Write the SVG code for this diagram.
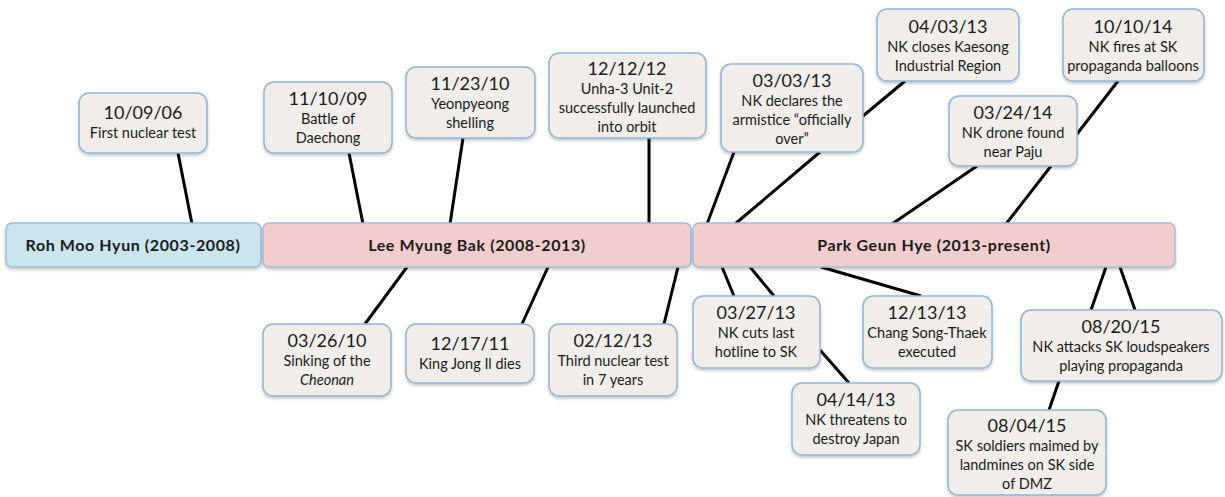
<svg xmlns="http://www.w3.org/2000/svg" width="1225" height="497" viewBox="0 0 1225 497">
<defs>
<filter id="sh" x="-10%" y="-10%" width="130%" height="140%">
<feDropShadow dx="0" dy="2" stdDeviation="1.5" flood-color="#000" flood-opacity="0.22"/>
</filter>
<style>
.ev{fill:#f1eee9;stroke:#8fb6d8;stroke-width:1.5;filter:url(#sh)}
.hdr{stroke:#9cbfdc;stroke-width:1.5;filter:url(#sh)}
.blue{fill:#c9e5ee}
.pink{fill:#f1cdcd}
text{font-family:Lato,"Open Sans","Liberation Sans",sans-serif;fill:#1a1a1a;text-anchor:middle}
.d{font-size:18px}
.t{font-size:14.5px}
.h{font-size:16px;font-weight:bold;letter-spacing:0.6px}
.c line{stroke:#000;stroke-width:3;stroke-linecap:butt}
</style>
</defs>
<rect width="1225" height="497" fill="#fff"/>
<g class="c" id="connectors">
<line x1="178" y1="153" x2="192" y2="224"/>
<line x1="349" y1="153" x2="363" y2="224"/>
<line x1="463" y1="138" x2="450" y2="224"/>
<line x1="649" y1="138" x2="649" y2="224"/>
<line x1="734" y1="152" x2="707" y2="224"/>
<line x1="820" y1="152" x2="735" y2="224"/>
<line x1="905" y1="81" x2="863" y2="116"/>
<line x1="977" y1="166" x2="892" y2="224"/>
<line x1="1051" y1="166" x2="1006" y2="224"/>
<line x1="1118" y1="81" x2="1077" y2="134"/>
<line x1="407" y1="267" x2="365" y2="324"/>
<line x1="548" y1="267" x2="522" y2="324"/>
<line x1="678" y1="267" x2="664" y2="324"/>
<line x1="722" y1="267" x2="734" y2="296"/>
<line x1="750" y1="267" x2="774" y2="296"/>
<line x1="821" y1="267" x2="921" y2="296"/>
<line x1="820" y1="350" x2="849" y2="383"/>
<line x1="1106" y1="267" x2="1091" y2="310"/>
<line x1="1120" y1="267" x2="1135" y2="310"/>
<line x1="1059" y1="381" x2="1049" y2="410"/>
</g>
<g id="roh"><rect class="hdr blue" x="6" y="223" width="255" height="44" rx="6"/><text class="h" x="133" y="251">Roh Moo Hyun (2003-2008)</text></g>
<g id="lee"><rect class="hdr pink" x="263" y="223" width="428" height="44" rx="6"/><text class="h" x="477" y="251">Lee Myung Bak (2008-2013)</text></g>
<g id="park"><rect class="hdr pink" x="693" y="223" width="482" height="44" rx="6"/><text class="h" x="934" y="251">Park Geun Hye (2013-present)</text></g>
<g id="e100906"><rect class="ev" x="79" y="93" width="128" height="60" rx="10"/><text class="d" x="143" y="119">10/09/06</text><text class="t" x="143" y="138">First nuclear test</text></g>
<g id="e111009"><rect class="ev" x="264" y="82" width="128" height="71" rx="10"/><text class="d" x="328" y="105">11/10/09</text><text class="t" x="328" y="124">Battle of</text><text class="t" x="328" y="143">Daechong</text></g>
<g id="e112310"><rect class="ev" x="406" y="67" width="129" height="71" rx="10"/><text class="d" x="470" y="90">11/23/10</text><text class="t" x="470" y="109">Yeonpyeong</text><text class="t" x="470" y="128">shelling</text></g>
<g id="e121212"><rect class="ev" x="549" y="53" width="157" height="85" rx="10"/><text class="d" x="627" y="75">12/12/12</text><text class="t" x="627" y="94">Unha-3 Unit-2</text><text class="t" x="627" y="113">successfully launched</text><text class="t" x="627" y="132">into orbit</text></g>
<g id="e030313"><rect class="ev" x="721" y="64" width="142" height="88" rx="10"/><text class="d" x="792" y="87">03/03/13</text><text class="t" x="792" y="106">NK declares the</text><text class="t" x="792" y="125">armistice “officially</text><text class="t" x="792" y="144">over”</text></g>
<g id="e040313"><rect class="ev" x="877" y="9" width="142" height="72" rx="10"/><text class="d" x="948" y="33">04/03/13</text><text class="t" x="948" y="52">NK closes Kaesong</text><text class="t" x="948" y="71">Industrial Region</text></g>
<g id="e101014"><rect class="ev" x="1063" y="9" width="141" height="72" rx="10"/><text class="d" x="1133" y="33">10/10/14</text><text class="t" x="1133" y="52">NK fires at SK</text><text class="t" x="1133" y="71">propaganda balloons</text></g>
<g id="e032414"><rect class="ev" x="949" y="96" width="128" height="70" rx="10"/><text class="d" x="1013" y="119">03/24/14</text><text class="t" x="1013" y="138">NK drone found</text><text class="t" x="1013" y="157">near Paju</text></g>
<g id="e032610"><rect class="ev" x="263" y="324" width="128" height="72" rx="10"/><text class="d" x="327" y="347">03/26/10</text><text class="t" x="327" y="366">Sinking of the</text><text class="t" x="327" y="385" font-style="italic">Cheonan</text></g>
<g id="e121711"><rect class="ev" x="406" y="324" width="128" height="59" rx="10"/><text class="d" x="470" y="350">12/17/11</text><text class="t" x="470" y="369">King Jong Il dies</text></g>
<g id="e021213"><rect class="ev" x="549" y="324" width="128" height="72" rx="10"/><text class="d" x="613" y="347">02/12/13</text><text class="t" x="613" y="366">Third nuclear test</text><text class="t" x="613" y="385">in 7 years</text></g>
<g id="e032713"><rect class="ev" x="693" y="296" width="127" height="72" rx="10"/><text class="d" x="756" y="319">03/27/13</text><text class="t" x="756" y="338">NK cuts last</text><text class="t" x="756" y="357">hotline to SK</text></g>
<g id="e121313"><rect class="ev" x="863" y="296" width="129" height="72" rx="10"/><text class="d" x="927" y="319">12/13/13</text><text class="t" x="927" y="338">Chang Song-Thaek</text><text class="t" x="927" y="357">executed</text></g>
<g id="e041413"><rect class="ev" x="792" y="383" width="128" height="72" rx="10"/><text class="d" x="856" y="406">04/14/13</text><text class="t" x="856" y="425">NK threatens to</text><text class="t" x="856" y="444">destroy Japan</text></g>
<g id="e082015"><rect class="ev" x="1021" y="310" width="201" height="71" rx="10"/><text class="d" x="1121" y="333">08/20/15</text><text class="t" x="1121" y="352">NK attacks SK loudspeakers</text><text class="t" x="1121" y="371">playing propaganda</text></g>
<g id="e080415"><rect class="ev" x="948" y="410" width="158" height="85" rx="10"/><text class="d" x="1027" y="432">08/04/15</text><text class="t" x="1027" y="451">SK soldiers maimed by</text><text class="t" x="1027" y="470">landmines on SK side</text><text class="t" x="1027" y="489">of DMZ</text></g>
</svg>
